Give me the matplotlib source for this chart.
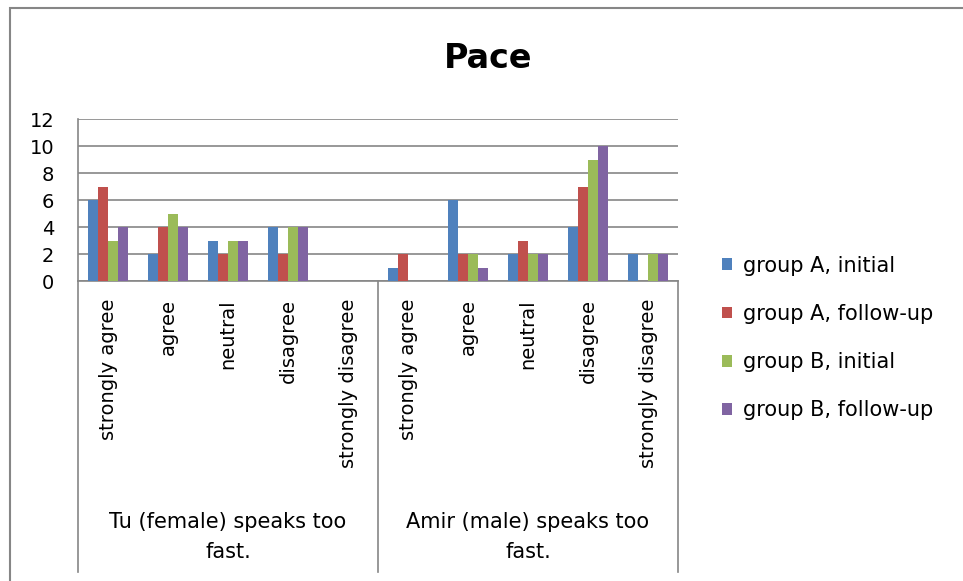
import matplotlib
matplotlib.use("Agg")
import matplotlib.pyplot as plt
from matplotlib.patches import Rectangle, Patch
from matplotlib.lines import Line2D
import matplotlib.transforms as mtransforms

plt.rcParams['font.family'] = ['DejaVu Sans']

# --- data -------------------------------------------------------------
responses = ["strongly agree", "agree", "neutral", "disagree", "strongly disagree"]
speakers = ["Tu (female) speaks too\nfast.", "Amir (male) speaks too\nfast."]
series_names = ["group A, initial", "group A, follow-up",
                "group B, initial", "group B, follow-up"]
group_a_initial = [6, 2, 3, 4, 0, 1, 6, 2, 4, 2]
group_a_followup = [7, 4, 2, 2, 0, 2, 2, 3, 7, 0]
group_b_initial = [3, 5, 3, 4, 0, 0, 2, 2, 9, 2]
group_b_followup = [4, 4, 3, 4, 0, 0, 1, 2, 10, 2]
y_ticks = [0, 2, 4, 6, 8, 10, 12]

colors = ["#4F81BD", "#C0504D", "#9BBB59", "#8064A2"]
series = [group_a_initial, group_a_followup, group_b_initial, group_b_followup]
axis_gray = "#868686"

W, H = 963, 581
fig = plt.figure(figsize=(W / 100, H / 100), dpi=100)

# plot area in pixel coordinates
left, right, top, bottom = 78, 678, 119, 281
ax = fig.add_axes([left / W, 1 - bottom / H, (right - left) / W, (bottom - top) / H])

n_cat = len(responses) * len(speakers)
bar_w = 1 / 6
for i, (vals, col) in enumerate(zip(series, colors)):
    xs = [k + (i - 1.5) * bar_w for k in range(n_cat)]
    ax.bar(xs, vals, width=bar_w, color=col, linewidth=0, zorder=3)

ax.set_xlim(-0.5, n_cat - 0.5)
ax.set_ylim(0, 12)
ax.set_yticks(y_ticks)
ax.set_yticklabels([str(t) for t in y_ticks], fontsize=14)
ax.yaxis.grid(True, color=axis_gray, linewidth=1.2, zorder=0)
ax.tick_params(axis="y", length=0, pad=17)
ax.tick_params(axis="x", length=0, pad=13)
ax.set_xticks(range(n_cat))
ax.set_xticklabels(responses * len(speakers), rotation=90, fontsize=14,
                   va="top", ha="center")
for s in ["top", "right"]:
    ax.spines[s].set_visible(False)
for s in ["left", "bottom"]:
    ax.spines[s].set_color(axis_gray)
    ax.spines[s].set_linewidth(1.2)

# group separators running down through the category labels
trans = mtransforms.blended_transform_factory(ax.transData, fig.transFigure)
sep_bottom = 1 - 572 / H
for xb in [-0.5, 4.5, 9.5]:
    ax.add_line(Line2D([xb, xb], [1 - bottom / H, sep_bottom], transform=trans,
                       color=axis_gray, linewidth=1.2, clip_on=False))

# speaker labels under each group
for g, name in enumerate(speakers):
    xc = g * len(responses) + (len(responses) - 1) / 2
    ax.text(xc, 1 - 537 / H, name, transform=trans, ha="center", va="center",
            fontsize=15, linespacing=1.6)

fig.text(488 / W, 1 - 58 / H, "Pace", ha="center", va="center",
         fontsize=24, fontweight="bold")

handles = [Patch(facecolor=c, edgecolor="none") for c in colors]
fig.legend(handles, series_names, loc="center left",
           bbox_to_anchor=(703 / W, 1 - 338 / H), frameon=False,
           fontsize=15, handlelength=0.5, handleheight=0.5,
           handletextpad=0.5, labelspacing=1.35)

# outer chart border
fig.patches.append(Rectangle((9.5 / W, -0.1), 1.2, 1 - 7.5 / H + 0.1,
                             transform=fig.transFigure, fill=False,
                             edgecolor=axis_gray, linewidth=1.5))

fig.savefig("out.png", dpi=100)
